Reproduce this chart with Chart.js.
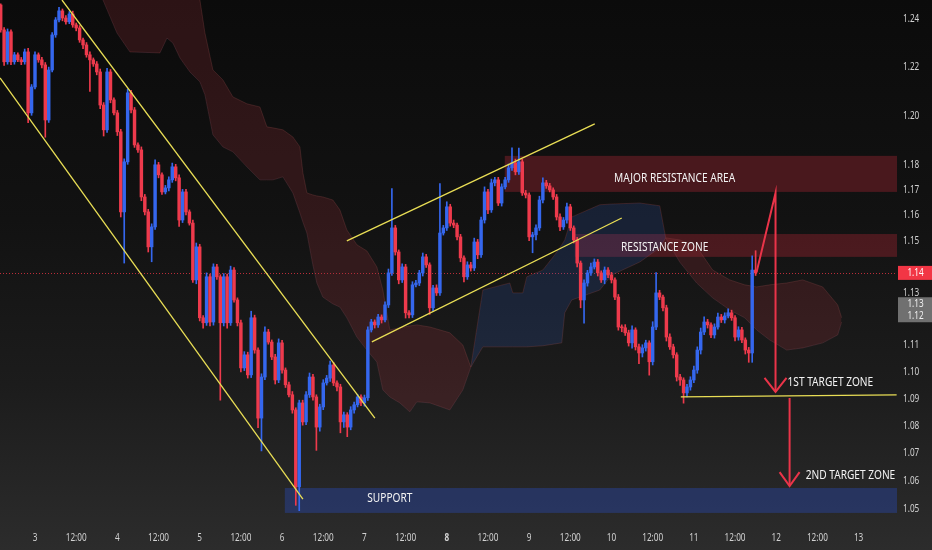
<!DOCTYPE html>
<html><head><meta charset="utf-8">
<script src="https://cdn.jsdelivr.net/npm/chart.js@4.4.1/dist/chart.umd.min.js"></script>
<style>html,body{margin:0;padding:0;background:#111;}canvas{display:block;}</style>
</head><body>
<canvas id="c" width="932" height="550"></canvas>
<script>
// ---------- DATA (hourly candles, hour 0 = day 3 00:00) ----------
const firstHour = -10;
const firstOpen = 1.2459;
const closes = [
1.2354,1.2221,1.2346,1.2221,1.2250,1.2229,1.2221,1.2262,1.2011,1.2117,
1.2250,1.2229,1.2208,1.1982,1.2187,1.2333,1.2396,1.2434,1.2404,1.2388,
1.2421,1.2375,1.2362,1.2312,1.2291,1.2250,1.2229,1.2212,1.2179,1.2043,
1.1942,1.2179,1.2064,1.2011,1.1934,1.1614,1.1813,1.2093,1.2023,1.1881,
1.1861,1.1673,1.1614,1.1477,1.1555,1.1801,1.1761,1.1693,1.1709,1.1741,
1.1793,1.1749,1.1582,1.1693,1.1614,1.1570,1.1349,1.1477,1.1204,1.1185,
1.1361,1.1188,1.1399,1.1361,1.1185,1.1361,1.1185,1.1387,1.1272,1.1185,
1.1015,1.1064,1.0989,1.1204,1.1082,1.0829,1.0981,1.1150,1.1112,1.1056,
1.0970,1.1109,1.1007,1.0952,1.0915,1.0859,1.0579,1.0885,1.0815,1.0915,
1.0981,1.0907,1.0796,1.0870,1.0959,1.0977,1.1026,1.0959,1.0944,1.0815,
1.0841,1.0796,1.0859,1.0878,1.0907,1.0885,1.0904,1.1158,1.1188,1.1177,
1.1207,1.1196,1.1253,1.1376,1.1551,1.1457,1.1349,1.1399,1.1223,1.1215,
1.1330,1.1337,1.1376,1.1438,1.1407,1.1242,1.1318,1.1299,1.1531,1.1551,
1.1634,1.1570,1.1562,1.1516,1.1434,1.1361,1.1407,1.1395,1.1496,1.1446,
1.1582,1.1693,1.1622,1.1729,1.1741,1.1649,1.1713,1.1741,1.1789,1.1809,
1.1773,1.1813,1.1689,1.1681,1.1516,1.1524,1.1551,1.1661,1.1729,1.1717,
1.1701,1.1673,1.1594,1.1555,1.1582,1.1634,1.1551,1.1504,1.1414,1.1272,
1.1337,1.1376,1.1399,1.1418,1.1376,1.1349,1.1387,1.1368,1.1349,1.1283,
1.1169,1.1166,1.1147,1.1109,1.1158,1.1094,1.1071,1.1090,1.1109,1.1038,
1.1169,1.1299,1.1283,1.1242,1.1131,1.1094,1.1064,1.0981,1.0970,1.0922,
1.0944,1.0970,1.1007,1.1082,1.1150,1.1188,1.1177,1.1139,1.1169,1.1207,
1.1196,1.1211,1.1223,1.1204,1.1131,1.1158,1.1120,1.1082,1.1071,1.1387,
1.1376];
// wick lengths beyond the body, in pips
const wickUp = [
5,10,12,8,10,8,10,12,15,10,
12,8,10,10,12,10,10,15,8,10,
10,12,8,10,8,10,12,8,10,12,
10,15,10,8,10,10,12,15,10,10,
8,12,10,10,12,20,10,8,10,12,
15,10,12,10,10,8,12,15,10,8,
15,10,12,10,8,12,10,15,10,8,
10,12,10,25,10,8,12,20,10,8,
10,15,10,8,10,12,8,10,10,12,
15,10,8,10,12,10,15,10,8,10,
10,8,12,10,10,8,10,12,10,8,
10,8,12,15,155,10,8,12,10,8,
12,10,10,15,10,8,10,12,195,10,
20,10,12,8,10,8,12,10,15,10,
12,20,10,15,10,10,12,10,15,60,
15,55,10,10,8,10,12,15,20,10,
10,8,10,12,10,15,10,8,10,8,
12,10,15,12,10,8,12,10,10,8,
10,8,12,10,15,8,10,12,10,8,
20,78,10,8,10,12,10,8,10,8,
10,12,15,12,15,20,10,8,12,15,
10,12,15,10,8,12,10,8,10,55,
75];
const wickDn = [
10,15,10,12,10,8,12,10,40,10,
8,10,12,70,10,8,10,8,12,10,
8,10,12,10,15,10,130,10,12,15,
25,10,12,8,15,20,200,10,12,10,
10,15,12,20,58,10,12,10,8,12,
10,12,25,10,12,8,10,15,12,20,
10,15,12,10,290,12,20,10,8,12,
15,10,12,10,12,35,120,10,8,10,
15,10,12,10,8,12,66,85,12,10,
10,12,85,15,10,8,12,10,15,40,
20,35,10,12,8,10,12,10,8,12,
10,12,8,10,10,12,15,10,20,12,
10,8,10,12,10,25,12,10,10,8,
10,12,10,12,15,20,10,12,10,15,
10,12,15,10,12,10,12,8,10,10,
12,10,10,12,15,62,20,10,12,10,
8,10,12,15,10,12,10,12,15,30,
88,12,10,8,12,10,15,10,12,10,
12,15,10,12,20,12,40,15,12,50,
12,10,10,12,15,10,12,15,20,38,
15,12,10,12,15,10,12,10,12,8,
10,12,8,10,15,12,10,15,35,35,
10];

// Ichimoku cloud (leading spans)
const cloudHours = [17.48,19.81,23.89,27.67,36.41,38.45,40.20,42.24,45.15,48.06,
49.52,51.85,54.76,57.68,61.75,65.54,67.58,69.33,72.24,75.15,
77.19,78.07,79.23,80.98,82.14,83.89,86.80,88.84,90.88,
93.80,96.71,99.62,101.37,103.41,106.32,109.23,111.27,115.06,120.88,
124.67,127.00,130.50,138.36,139.24,142.15,143.31,147.98,151.47,153.51,
154.38,156.42,164.58,168.08,176.23,182.06,183.80,
187.88,192.83,197.49,202.45,206.82,210.31,214.10,219.05,223.71,229.54,
233.91,235.07];
const spanA = [1.2565,1.2480,1.2341,1.2262,1.2258,1.2320,1.2299,1.2237,1.2179,1.2138,
1.2085,1.1922,1.1873,1.1853,1.1793,1.1741,1.1741,1.1741,1.1753,1.1689,
1.1610,1.1574,1.1531,1.1407,1.1337,1.1283,1.1257,1.1245,1.1204,
1.1131,1.1082,1.1037,1.0933,1.0907,1.0885,1.0852,1.0889,1.0885,1.0859,
1.0933,1.1018,1.1310,1.1337,1.1299,1.1299,1.1361,1.1387,1.1446,1.1485,
1.1504,1.1594,1.1642,1.1645,1.1649,1.1638,1.1512,
1.1418,1.1337,1.1280,1.1234,1.1204,1.1158,1.1120,1.1082,1.1090,1.1109,
1.1139,1.1188];
const spanB = [1.2650,1.2650,1.2650,1.2650,1.2650,1.2650,1.2650,1.2650,1.2608,1.2480,
1.2341,1.2187,1.2146,1.2076,1.2048,1.2035,1.1954,1.1950,1.1942,1.1913,
1.1873,1.1769,1.1689,1.1681,1.1677,1.1673,1.1661,1.1622,1.1543,
1.1485,1.1461,1.1399,1.1310,1.1158,1.1166,1.1173,1.1177,1.1169,1.1147,
1.1101,1.1018,1.1094,1.1094,1.1094,1.1094,1.1094,1.1098,1.1105,1.1109,
1.1223,1.1272,1.1310,1.1368,1.1418,1.1473,1.1512,
1.1504,1.1477,1.1387,1.1349,1.1330,1.1322,1.1330,1.1337,1.1349,1.1322,
1.1253,1.1204];
const cloudTagValues = [1.13, 1.12];

// axis ticks
const tickHours = [0,12,24,36,48,60,72,84,96,108,120,132,144,156,168,180,192,204,216,228,240];
const tickLabels = ['3','12:00','4','12:00','5','12:00','6','12:00','7','12:00','8','12:00','9','12:00','10','12:00','11','12:00','12','12:00','13'];
const priceTicks = [1.05,1.06,1.07,1.08,1.09,1.10,1.11,1.13,1.15,1.16,1.17,1.18,1.20,1.22,1.24];

// zones
const zoneNames = ['MAJOR RESISTANCE AREA','RESISTANCE ZONE','SUPPORT'];
const zoneStartHour = [136.9, 157.3, 72.8];
const zoneLow = [1.1693, 1.1438, 1.0486];
const zoneHigh = [1.1837, 1.1527, 1.0575];
const zoneLabelHour = [186.4, 183.5, 103.4];
const zoneLabelPrice = [1.1749, 1.1477, 1.0539];

// trend lines [hour1, price1, hour2, price2]
const channelLines = [
  [7.86, 1.2480, 99.04, 1.0829],
  [-10.2, 1.2154, 78.07, 1.0535],
  [90.88, 1.1500, 163.12, 1.1966],
  [98.16, 1.1113, 170.99, 1.1590],
  [188.2, 1.0907, 251.1, 1.0915]
];
// projected path arrows
const arrow1 = [[210.3, 1.1380], [215.8, 1.1689], [215.8, 1.0926]];
const arrow2 = [[219.9, 1.0903], [219.9, 1.0582]];
const targetNames = ['1ST TARGET ZONE', '2ND TARGET ZONE'];
const targetHour = [219.3, 224.6];
const targetPrice = [1.0963, 1.0622];

// ---------- DERIVED ----------
const hours = closes.map((_, i) => firstHour + i);
const opens = closes.map((c, i) => i === 0 ? firstOpen : closes[i - 1]);
const highs = closes.map((c, i) => Math.max(opens[i], c) + wickUp[i] * 0.0001);
const lows = closes.map((c, i) => Math.min(opens[i], c) - wickDn[i] * 0.0001);
const BLUE = '#3567ee', RED = '#ee3a4c';
const candleColor = i => closes[i] >= opens[i] ? BLUE : RED;
const FONT = '"Noto Sans","DejaVu Sans",sans-serif';

function narrowText(ctx, text, x, y, align, sx) {
  ctx.save();
  ctx.translate(x, y);
  ctx.scale(sx, 1);
  ctx.textAlign = align;
  ctx.fillText(text, 0, 0);
  ctx.restore();
}

const overlay = {
  id: 'overlay',
  beforeDraw(chart) {
    const ctx = chart.ctx;
    const g = ctx.createLinearGradient(0, 0, 0, chart.height);
    g.addColorStop(0, '#0b0b0b');
    g.addColorStop(0.4, '#121212');
    g.addColorStop(0.7, '#1c1c1c');
    g.addColorStop(1, '#2c2c2c');
    ctx.save(); ctx.fillStyle = g; ctx.fillRect(0, 0, chart.width, chart.height); ctx.restore();
  },
  beforeDatasetsDraw(chart) {
    const ctx = chart.ctx, a = chart.chartArea;
    const X = v => chart.scales.x.getPixelForValue(v), Y = v => chart.scales.y.getPixelForValue(v);
    ctx.save();
    ctx.beginPath(); ctx.rect(a.left, a.top, a.right - a.left, a.bottom - a.top); ctx.clip();
    zoneNames.forEach((n, i) => {
      const x0 = X(zoneStartHour[i]), y0 = Y(zoneHigh[i]), y1 = Y(zoneLow[i]);
      ctx.fillStyle = i === 2 ? 'rgba(40,62,130,0.62)' : 'rgba(145,34,45,0.44)';
      ctx.fillRect(x0, y0, a.right - x0, y1 - y0);
    });
    const yl = Y(closes[closes.length - 1]);
    ctx.strokeStyle = 'rgba(242,54,69,0.75)'; ctx.lineWidth = 1; ctx.setLineDash([1, 2]);
    ctx.beginPath(); ctx.moveTo(a.left, Math.round(yl) + 0.5); ctx.lineTo(a.right, Math.round(yl) + 0.5); ctx.stroke();
    ctx.restore();
  },
  afterDatasetsDraw(chart) {
    const ctx = chart.ctx, a = chart.chartArea;
    const X = v => chart.scales.x.getPixelForValue(v), Y = v => chart.scales.y.getPixelForValue(v);
    ctx.save();
    ctx.beginPath(); ctx.rect(a.left, a.top, a.right - a.left, a.bottom - a.top); ctx.clip();
    ctx.strokeStyle = '#e9de55'; ctx.lineWidth = 1.3;
    channelLines.forEach(l => {
      ctx.beginPath(); ctx.moveTo(X(l[0]), Y(l[1])); ctx.lineTo(X(l[2]), Y(l[3])); ctx.stroke();
    });
    ctx.strokeStyle = '#ea3449'; ctx.lineWidth = 2; ctx.lineJoin = 'miter';
    [arrow1, arrow2].forEach((p, k) => {
      ctx.beginPath();
      p.forEach((pt, i) => { const x = X(pt[0]), y = Y(pt[1]); i ? ctx.lineTo(x, y) : ctx.moveTo(x, y); });
      ctx.stroke();
      const t = p[p.length - 1], tx = X(t[0]), ty = Y(t[1]);
      const w = k === 0 ? 11 : 10, h = 14;
      ctx.beginPath(); ctx.moveTo(tx - w, ty - h); ctx.lineTo(tx, ty); ctx.lineTo(tx + w, ty - h); ctx.stroke();
    });
    ctx.fillStyle = '#f4f4f4'; ctx.font = '13px ' + FONT; ctx.textBaseline = 'middle';
    zoneNames.forEach((n, i) => narrowText(ctx, n, X(zoneLabelHour[i]), Y(zoneLabelPrice[i]), 'center', 0.78));
    targetNames.forEach((n, i) => narrowText(ctx, n, X(targetHour[i]), Y(targetPrice[i]), 'left', 0.78));
    ctx.restore();
  },
  afterDraw(chart) {
    const ctx = chart.ctx, a = chart.chartArea;
    const X = v => chart.scales.x.getPixelForValue(v), Y = v => chart.scales.y.getPixelForValue(v);
    ctx.save();
    ctx.textBaseline = 'middle';
    ctx.fillStyle = '#d2d2d2';
    ctx.font = '10.5px ' + FONT;
    priceTicks.forEach(v => narrowText(ctx, v.toFixed(2), a.right + 6, Y(v), 'left', 0.78));
    tickHours.forEach((h, i) => {
      ctx.font = (h === 120 ? 'bold ' : '') + '10.5px ' + FONT;
      narrowText(ctx, tickLabels[i], X(h), 538, 'center', 0.78);
    });
    ctx.font = '10.5px ' + FONT;
    const cx = (a.right + chart.width) / 2 + 1;
    const yc = (Y(cloudTagValues[0]) + Y(cloudTagValues[1])) / 2 + 4;
    ctx.fillStyle = '#707070'; ctx.fillRect(a.right + 1, yc - 12.5, chart.width - a.right - 1, 25);
    ctx.fillStyle = '#f0f0f0';
    narrowText(ctx, cloudTagValues[0].toFixed(2), cx, yc - 6, 'center', 0.78);
    narrowText(ctx, cloudTagValues[1].toFixed(2), cx, yc + 6, 'center', 0.78);
    const last = closes[closes.length - 1], yl = Y(last);
    ctx.fillStyle = '#f23645'; ctx.fillRect(a.right + 1, yl - 7, chart.width - a.right - 1, 14);
    ctx.fillStyle = '#ffffff';
    narrowText(ctx, last.toFixed(2), cx, yl + 0.5, 'center', 0.78);
    ctx.restore();
  }
};

new Chart(document.getElementById('c'), {
  type: 'bar',
  data: {
    datasets: [
      { type: 'line', label: 'spanA', data: cloudHours.map((h, i) => ({ x: h, y: spanA[i] })),
        borderColor: 'rgba(150,75,75,0.28)', borderWidth: 1, pointRadius: 0, tension: 0, fill: false, order: 10 },
      { type: 'line', label: 'spanB', data: cloudHours.map((h, i) => ({ x: h, y: spanB[i] })),
        borderColor: 'rgba(150,75,75,0.28)', borderWidth: 1, pointRadius: 0, tension: 0, order: 9,
        fill: { target: 0, above: 'rgba(150,48,55,0.24)', below: 'rgba(45,85,175,0.22)' } },
      { type: 'bar', label: 'wicks', data: hours.map((h, i) => ({ x: h, y: [lows[i], highs[i]] })),
        backgroundColor: c => candleColor(c.dataIndex), barThickness: 1, grouped: false, order: 2, borderWidth: 0 },
      { type: 'bar', label: 'bodies', data: hours.map((h, i) => ({ x: h, y: [Math.min(opens[i], closes[i]), Math.max(opens[i], closes[i])] })),
        backgroundColor: c => candleColor(c.dataIndex), barThickness: 2.8, minBarLength: 1, grouped: false, order: 1, borderWidth: 0 }
    ]
  },
  options: {
    responsive: false, animation: false,
    layout: { padding: 0 },
    plugins: { legend: { display: false }, tooltip: { enabled: false } },
    scales: {
      x: {
        type: 'linear', min: -10.2, max: 251.2, bounds: 'data', offset: false,
        grid: { display: false, drawTicks: false }, border: { display: false },
        afterBuildTicks: s => { s.ticks = tickHours.map(v => ({ value: v })); },
        afterFit: s => { s.height = 23; s.paddingLeft = 0; s.paddingRight = 0; },
        ticks: { display: false }
      },
      y: {
        type: 'logarithmic', position: 'right', min: 1.0436, max: 1.2480, bounds: 'data',
        grid: { display: false, drawTicks: false }, border: { display: false },
        afterBuildTicks: s => { s.ticks = priceTicks.map(v => ({ value: v })); },
        afterFit: s => { s.width = 35; s.paddingTop = 0; s.paddingBottom = 0; },
        ticks: { display: false }
      }
    }
  },
  plugins: [overlay]
});
</script>
</body></html>
